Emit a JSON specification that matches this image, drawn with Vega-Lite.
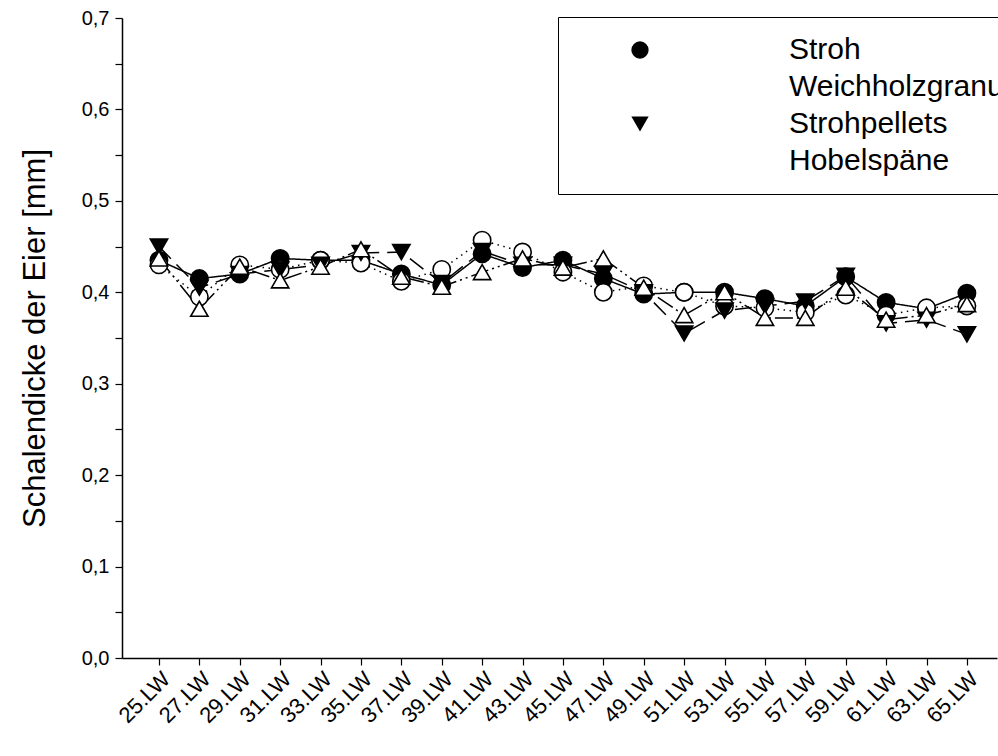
{
  "$schema": "https://vega.github.io/schema/vega-lite/v6.json",
  "width": 875,
  "height": 640,
  "autosize": "none",
  "padding": {"left": 122, "top": 18, "right": 1, "bottom": 98},
  "background": "white",
  "config": {
    "view": {"stroke": null},
    "font": "Liberation Sans",
    "axis": {
      "domainColor": "black",
      "domainWidth": 1.5,
      "tickColor": "black",
      "tickWidth": 1.2,
      "tickSize": 7,
      "labelColor": "black",
      "titleColor": "black",
      "grid": false,
      "labelFont": "Liberation Sans",
      "titleFont": "Liberation Sans"
    },
    "legend": {
      "orient": "none",
      "legendX": 436,
      "legendY": -1,
      "strokeColor": "black",
      "padding": 18,
      "symbolSize": 300,
      "symbolStrokeWidth": 1.6,
      "symbolStrokeColor": "black",
      "rowPadding": 7,
      "labelFontSize": 30,
      "labelFont": "Liberation Sans",
      "labelColor": "black",
      "labelLimit": 0,
      "labelOffset": 134,
      "symbolOffset": 49
    }
  },
  "data": {
    "values": [
      {"week": 25, "series": "Stroh", "value": 0.435},
      {"week": 27, "series": "Stroh", "value": 0.415},
      {"week": 29, "series": "Stroh", "value": 0.420},
      {"week": 31, "series": "Stroh", "value": 0.437},
      {"week": 33, "series": "Stroh", "value": 0.435},
      {"week": 35, "series": "Stroh", "value": 0.435},
      {"week": 37, "series": "Stroh", "value": 0.420},
      {"week": 39, "series": "Stroh", "value": 0.408},
      {"week": 41, "series": "Stroh", "value": 0.442},
      {"week": 43, "series": "Stroh", "value": 0.427},
      {"week": 45, "series": "Stroh", "value": 0.435},
      {"week": 47, "series": "Stroh", "value": 0.415},
      {"week": 49, "series": "Stroh", "value": 0.398},
      {"week": 51, "series": "Stroh", "value": 0.400},
      {"week": 53, "series": "Stroh", "value": 0.400},
      {"week": 55, "series": "Stroh", "value": 0.393},
      {"week": 57, "series": "Stroh", "value": 0.385},
      {"week": 59, "series": "Stroh", "value": 0.417},
      {"week": 61, "series": "Stroh", "value": 0.389},
      {"week": 63, "series": "Stroh", "value": 0.382},
      {"week": 65, "series": "Stroh", "value": 0.399},
      {"week": 25, "series": "Weichholzgranulat", "value": 0.430},
      {"week": 27, "series": "Weichholzgranulat", "value": 0.395},
      {"week": 29, "series": "Weichholzgranulat", "value": 0.430},
      {"week": 31, "series": "Weichholzgranulat", "value": 0.425},
      {"week": 33, "series": "Weichholzgranulat", "value": 0.435},
      {"week": 35, "series": "Weichholzgranulat", "value": 0.432},
      {"week": 37, "series": "Weichholzgranulat", "value": 0.412},
      {"week": 39, "series": "Weichholzgranulat", "value": 0.425},
      {"week": 41, "series": "Weichholzgranulat", "value": 0.457},
      {"week": 43, "series": "Weichholzgranulat", "value": 0.444},
      {"week": 45, "series": "Weichholzgranulat", "value": 0.422},
      {"week": 47, "series": "Weichholzgranulat", "value": 0.400},
      {"week": 49, "series": "Weichholzgranulat", "value": 0.407},
      {"week": 51, "series": "Weichholzgranulat", "value": 0.400},
      {"week": 53, "series": "Weichholzgranulat", "value": 0.385},
      {"week": 55, "series": "Weichholzgranulat", "value": 0.383},
      {"week": 57, "series": "Weichholzgranulat", "value": 0.378},
      {"week": 59, "series": "Weichholzgranulat", "value": 0.397},
      {"week": 61, "series": "Weichholzgranulat", "value": 0.375},
      {"week": 63, "series": "Weichholzgranulat", "value": 0.383},
      {"week": 65, "series": "Weichholzgranulat", "value": 0.385},
      {"week": 25, "series": "Strohpellets", "value": 0.450},
      {"week": 27, "series": "Strohpellets", "value": 0.405},
      {"week": 29, "series": "Strohpellets", "value": 0.420},
      {"week": 31, "series": "Strohpellets", "value": 0.425},
      {"week": 33, "series": "Strohpellets", "value": 0.430},
      {"week": 35, "series": "Strohpellets", "value": 0.443},
      {"week": 37, "series": "Strohpellets", "value": 0.444},
      {"week": 39, "series": "Strohpellets", "value": 0.410},
      {"week": 41, "series": "Strohpellets", "value": 0.445},
      {"week": 43, "series": "Strohpellets", "value": 0.430},
      {"week": 45, "series": "Strohpellets", "value": 0.430},
      {"week": 47, "series": "Strohpellets", "value": 0.420},
      {"week": 49, "series": "Strohpellets", "value": 0.400},
      {"week": 51, "series": "Strohpellets", "value": 0.355},
      {"week": 53, "series": "Strohpellets", "value": 0.380},
      {"week": 55, "series": "Strohpellets", "value": 0.385},
      {"week": 57, "series": "Strohpellets", "value": 0.390},
      {"week": 59, "series": "Strohpellets", "value": 0.418},
      {"week": 61, "series": "Strohpellets", "value": 0.366},
      {"week": 63, "series": "Strohpellets", "value": 0.370},
      {"week": 65, "series": "Strohpellets", "value": 0.354},
      {"week": 25, "series": "Hobelspäne", "value": 0.437},
      {"week": 27, "series": "Hobelspäne", "value": 0.382},
      {"week": 29, "series": "Hobelspäne", "value": 0.428},
      {"week": 31, "series": "Hobelspäne", "value": 0.413},
      {"week": 33, "series": "Hobelspäne", "value": 0.428},
      {"week": 35, "series": "Hobelspäne", "value": 0.447},
      {"week": 37, "series": "Hobelspäne", "value": 0.417},
      {"week": 39, "series": "Hobelspäne", "value": 0.406},
      {"week": 41, "series": "Hobelspäne", "value": 0.422},
      {"week": 43, "series": "Hobelspäne", "value": 0.437},
      {"week": 45, "series": "Hobelspäne", "value": 0.427},
      {"week": 47, "series": "Hobelspäne", "value": 0.437},
      {"week": 49, "series": "Hobelspäne", "value": 0.405},
      {"week": 51, "series": "Hobelspäne", "value": 0.375},
      {"week": 53, "series": "Hobelspäne", "value": 0.400},
      {"week": 55, "series": "Hobelspäne", "value": 0.372},
      {"week": 57, "series": "Hobelspäne", "value": 0.372},
      {"week": 59, "series": "Hobelspäne", "value": 0.405},
      {"week": 61, "series": "Hobelspäne", "value": 0.370},
      {"week": 63, "series": "Hobelspäne", "value": 0.375},
      {"week": 65, "series": "Hobelspäne", "value": 0.387}
    ]
  },
  "encoding": {
    "x": {
      "field": "week",
      "type": "quantitative",
      "scale": {"domain": [23.17, 66.49], "nice": false, "zero": false},
      "axis": {
        "title": null,
        "values": [25, 27, 29, 31, 33, 35, 37, 39, 41, 43, 45, 47, 49, 51, 53, 55, 57, 59, 61, 63, 65],
        "labelExpr": "datum.value + '.LW'",
        "labelAngle": -45,
        "labelAlign": "right",
        "labelBaseline": "top",
        "labelFontSize": 22,
        "labelPadding": 3,
        "labelOverlap": false,
        "labelFlush": false
      }
    },
    "y": {
      "field": "value",
      "type": "quantitative",
      "scale": {"domain": [0, 0.7], "nice": false},
      "axis": {
        "title": "Schalendicke der Eier [mm]",
        "titleFontSize": 31,
        "titleFontWeight": "normal",
        "titlePadding": 30,
        "values": [0, 0.05, 0.1, 0.15, 0.2, 0.25, 0.3, 0.35, 0.4, 0.45, 0.5, 0.55, 0.6, 0.65, 0.7],
        "labelExpr": "round(datum.value * 100) % 10 === 0 ? replace(format(datum.value, '.1f'), '.', ',') : ''",
        "labelFontSize": 20,
        "labelPadding": 6,
        "labelOverlap": false,
        "labelFlush": false
      }
    }
  },
  "layer": [
    {
      "mark": {"type": "line", "color": "black", "strokeWidth": 1.5},
      "encoding": {
        "detail": {"field": "series"},
        "strokeDash": {
          "field": "series",
          "type": "nominal",
          "scale": {
            "domain": ["Hobelspäne", "Strohpellets", "Weichholzgranulat", "Stroh"],
            "range": [[18, 4, 2, 4, 2, 4], [17, 8], [1.5, 4.5], [1, 0]]
          },
          "legend": null
        }
      }
    },
    {
      "mark": {"type": "point", "filled": true, "stroke": "black", "strokeWidth": 1.6, "size": 300, "opacity": 1},
      "encoding": {
        "fill": {
          "field": "series",
          "type": "nominal",
          "scale": {
            "domain": ["Stroh", "Weichholzgranulat", "Strohpellets", "Hobelspäne"],
            "range": ["black", "white", "black", "white"]
          },
          "legend": {"title": null}
        },
        "shape": {
          "field": "series",
          "type": "nominal",
          "scale": {
            "domain": ["Stroh", "Weichholzgranulat", "Strohpellets", "Hobelspäne"],
            "range": ["circle", "circle", "triangle-down", "triangle-up"]
          },
          "legend": {"title": null}
        }
      }
    }
  ]
}
